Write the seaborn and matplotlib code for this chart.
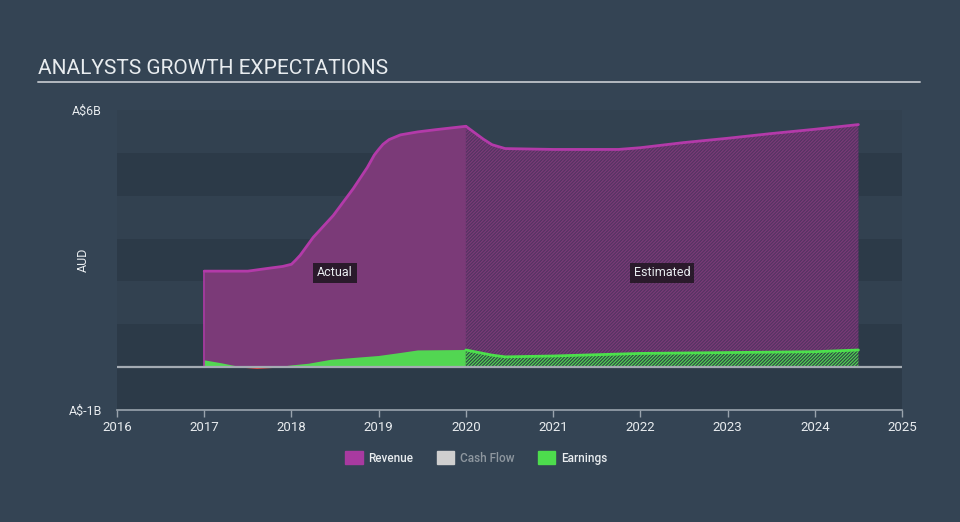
"""
Analysts growth expectations — revenue / earnings area chart (actual vs estimated).
"""

import numpy as np
import matplotlib.pyplot as plt
import matplotlib.patches as mpatches
import seaborn as sns

# ---- data (A$ billions) ----
REV_ACT_YEARS = [2017.0, 2017.5, 2017.75, 2017.9, 2018.0, 2018.05, 2018.1, 2018.25,
                 2018.48, 2018.71, 2018.87, 2018.95, 2019.0, 2019.05, 2019.12,
                 2019.25, 2019.45, 2019.65, 2020.0]
REV_ACT = [2.24, 2.24, 2.31, 2.35, 2.4, 2.5, 2.61, 3.03,
           3.54, 4.17, 4.66, 4.95, 5.08, 5.2, 5.31,
           5.42, 5.49, 5.54, 5.62]

REV_EST_YEARS = [2020.0, 2020.1, 2020.2, 2020.3, 2020.45, 2021.0, 2021.75, 2022.0,
                 2022.5, 2023.0, 2023.5, 2024.0, 2024.5]
REV_EST = [5.62, 5.47, 5.32, 5.19, 5.1, 5.08, 5.08, 5.12, 5.24, 5.34, 5.45, 5.55, 5.66]

EARN_ACT_YEARS = [2017.0, 2017.2, 2017.42, 2017.6, 2017.85, 2018.0, 2018.2, 2018.45,
                  2018.75, 2019.0, 2019.25, 2019.45, 2020.0]
EARN_ACT = [0.16, 0.09, 0.0, -0.03, 0.0, 0.04, 0.08, 0.17,
            0.22, 0.26, 0.33, 0.39, 0.40]

EARN_EST_YEARS = [2020.0, 2020.15, 2020.3, 2020.45, 2021.0, 2021.5, 2022.0, 2023.0,
                  2024.0, 2024.5]
EARN_EST = [0.40, 0.34, 0.28, 0.24, 0.26, 0.29, 0.32, 0.34, 0.36, 0.40]

X_TICKS = list(range(2016, 2026))
LEGEND_LABELS = ["Revenue", "Cash Flow", "Earnings"]

# ---- colours ----
BG = "#344454"
BAND_LIGHT = "#324150"
BAND_DARK = "#2c3a48"
REV_LINE = "#b33aa9"
REV_FILL = "#7b3a78"
REV_EST_BG = "#553462"
EARN_LINE = "#4ce04c"
EARN_FILL = "#52d652"
EARN_EST_BG = "#2f4a46"
NEG_RED = "#e8403a"
TEXT = "#e8ecef"
GREY = "#9aa4ad"

sns.set_theme(style="dark")
plt.rcParams["font.family"] = ["Roboto", "DejaVu Sans"]
plt.rcParams["hatch.linewidth"] = 0.8

fig = plt.figure(figsize=(9.6, 5.22), dpi=100, facecolor=BG)
ax = fig.add_axes([117 / 960, 1 - 410 / 522, 785 / 960, 300 / 522])
ax.set_facecolor(BAND_DARK)

# horizontal bands
for lo in (5, 3, 1):
    ax.axhspan(lo, lo + 1, color=BAND_LIGHT, zorder=0, lw=0)

# actual revenue
ax.fill_between(REV_ACT_YEARS, 0, REV_ACT, color=REV_FILL, lw=0, zorder=1)
sns.lineplot(x=REV_ACT_YEARS, y=REV_ACT, ax=ax, color=REV_LINE, lw=2, zorder=3)
ax.plot([2017.0, 2017.0], [0, REV_ACT[0]], color=REV_LINE, lw=1.2, zorder=3)

# estimated revenue (hatched)
ax.fill_between(REV_EST_YEARS, 0, REV_EST, facecolor=REV_EST_BG, edgecolor=REV_FILL,
                hatch="/" * 10, lw=0, zorder=1)
sns.lineplot(x=REV_EST_YEARS, y=REV_EST, ax=ax, color=REV_LINE, lw=2, zorder=3)

# actual earnings
ea = np.array(EARN_ACT)
ax.fill_between(EARN_ACT_YEARS, 0, ea, where=ea >= 0, interpolate=True,
                color=EARN_FILL, lw=0, zorder=2)
ax.fill_between(EARN_ACT_YEARS, 0, ea, where=ea <= 0, interpolate=True,
                color=NEG_RED, lw=0, zorder=2)

# estimated earnings (hatched)
ax.fill_between(EARN_EST_YEARS, 0, EARN_EST, facecolor=EARN_EST_BG, edgecolor=EARN_FILL,
                hatch="/" * 10, lw=0, zorder=2)
sns.lineplot(x=EARN_EST_YEARS, y=EARN_EST, ax=ax, color=EARN_LINE, lw=2, zorder=3)

# zero line
ax.axhline(0, color="#a4abb3", lw=1.6, zorder=4)

# period labels
box = dict(boxstyle="square,pad=0.3", fc="#2a1a2b", ec="none")
ax.text(2018.5, 2.2, "Actual", color=TEXT, fontsize=9, ha="center", va="center", bbox=box, zorder=5)
ax.text(2022.25, 2.2, "Estimated", color=TEXT, fontsize=9, ha="center", va="center", bbox=box, zorder=5)

# axes styling
ax.set_xlim(2016, 2025)
ax.set_ylim(-1, 6)
ax.set_xticks(X_TICKS)
ax.set_xticklabels([str(y) for y in X_TICKS])
ax.set_yticks([6, -1])
ax.set_yticklabels(["A$6B", "A$-1B"])
ax.tick_params(axis="x", colors=GREY, labelcolor=TEXT, labelsize=9.5, length=5,
               width=1, direction="out", bottom=True, pad=3)
ax.tick_params(axis="y", labelcolor=TEXT, labelsize=9, length=0, pad=11)
ax.set_ylabel("AUD", color=TEXT, fontsize=9)
ax.yaxis.set_label_coords(-0.034, 0.5)
ax.set_xlabel("")
for side in ("top", "right", "left"):
    ax.spines[side].set_visible(False)
ax.spines["bottom"].set_color(GREY)
ax.spines["bottom"].set_linewidth(1.2)
ax.grid(False)

# title + rule
fig.text(38 / 960, 1 - 68 / 522, "ANALYSTS GROWTH EXPECTATIONS", color=TEXT,
         fontsize=15, ha="left", va="center")
fig.add_artist(plt.Line2D([38 / 960, 920 / 960], [1 - 82 / 522, 1 - 82 / 522],
                          color="#b4bac0", lw=1.4))

# legend
handles = [mpatches.Patch(color=c, label=l)
           for c, l in zip(["#a83aa0", "#cfcfcf", "#4ddc4d"], LEGEND_LABELS)]
leg = fig.legend(handles=handles, loc="center", bbox_to_anchor=(476 / 960, 1 - 458 / 522),
                 ncol=3, frameon=False, fontsize=8.5, handlelength=1.5, handleheight=1.2,
                 columnspacing=2.0, handletextpad=0.45)
for t, c in zip(leg.get_texts(), [TEXT, "#8e979f", TEXT]):
    t.set_color(c)
    t.set_fontweight("medium")

fig.savefig("out.png", dpi=100, facecolor=BG)
plt.close(fig)
